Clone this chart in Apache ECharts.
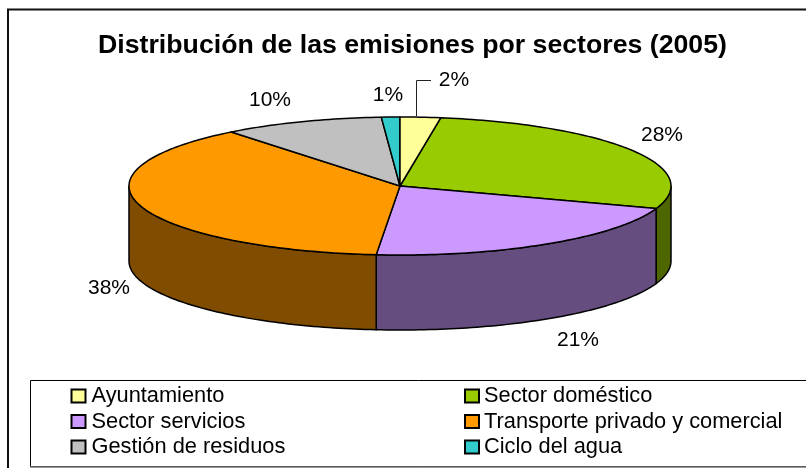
<!DOCTYPE html>
<html><head><meta charset="utf-8">
<style>html,body{margin:0;padding:0;background:#fff}#c{width:806px;height:468px}</style>
<script src="https://cdn.jsdelivr.net/npm/echarts@6/dist/echarts.min.js"></script>
</head><body><div id="c"></div>
<script>
const categories = ['Ayuntamiento','Sector doméstico','Sector servicios','Transporte privado y comercial','Gestión de residuos','Ciclo del agua'];
const values = [2.4,27.9,21.1,37.9,9.6,1.1];
const topColors = ['#ffff99','#99cc00','#cc99ff','#ff9900','#c0c0c0','#33cccc'];
const sideColors = ['#808050','#4d6600','#664d80','#804d00','#606060','#1a6666'];
const valueLabels = ['2%','28%','21%','38%','10%','1%'];

const CX=400, CY=186, RX=271, RY=69, DEPTH=75;
const LABEL_XY=[[454,80],[662,135],[578,340],[109,288],[270,100],[388,95]];
const FONT='"Liberation Sans", Arial, sans-serif';
const total=values.reduce((a,b)=>a+b,0);
const pt=(t,dy)=>[CX+RX*Math.sin(t),CY-RY*Math.cos(t)+(dy||0)];
function arc(a,b,dy){const n=Math.max(2,Math.ceil((b-a)/0.02)),o=[];for(let i=0;i<=n;i++)o.push(pt(a+(b-a)*i/n,dy));return o;}

function renderSlice(idx){
  return function(){
    let cum=0;for(let i=0;i<idx;i++)cum+=values[i];
    const a=cum/total*2*Math.PI,b=(cum+values[idx])/total*2*Math.PI;
    const children=[];
    const sa=Math.max(a,Math.PI/2),sb=Math.min(b,Math.PI*1.5);
    const stroke={stroke:'#000',lineWidth:1.5,lineJoin:'round'};
    if(sb>sa){
      const top=arc(sa,sb,0),bot=arc(sa,sb,DEPTH).reverse();
      children.push({type:'polygon',shape:{points:top.concat(bot)},style:Object.assign({fill:sideColors[idx]},stroke)});
    }
    children.push({type:'polygon',shape:{points:[[CX,CY]].concat(arc(a,b,0))},style:Object.assign({fill:topColors[idx]},stroke)});
    const lp=LABEL_XY[idx];
    children.push({type:'text',x:lp[0],y:lp[1],style:{text:valueLabels[idx],font:'21px '+FONT,fill:'#000',align:'center',verticalAlign:'middle'}});
    if(idx===0){
      children.push({type:'polyline',shape:{points:[[416.5,116],[416.5,80.5],[431,80.5]]},style:{stroke:'#222',lineWidth:1,fill:null}});
    }
    return {type:'group',children};
  };
}
const series=categories.map((name,i)=>({
  type:'custom',name,coordinateSystem:'none',silent:true,
  data:[values[i]],renderItem:renderSlice(i),
  itemStyle:{color:topColors[i],borderColor:'#000',borderWidth:1.5},
  z:i===0?3:2,animation:false
}));
const legendBase={orient:'vertical',itemWidth:14,itemHeight:13,itemGap:3.5,icon:'rect',padding:0,selectedMode:false};
const legendText=pad=>({fontFamily:FONT,fontSize:21.8,lineHeight:22,color:'#000',padding:[0,0,0,pad]});
const chart=echarts.init(document.getElementById('c'),null,{renderer:'canvas'});
chart.setOption({
  animation:false,backgroundColor:'#fff',
  title:{text:'Distribución de las emisiones por sectores (2005)',left:407.5,top:27,textAlign:'center',
    textStyle:{fontFamily:FONT,fontWeight:'bold',fontSize:26.7,color:'#000'}},
  legend:[
    Object.assign({},legendBase,{left:70.5,top:385,textStyle:legendText(1),data:categories.filter((_,i)=>i%2===0)}),
    Object.assign({},legendBase,{left:464,top:385,textStyle:legendText(0),data:categories.filter((_,i)=>i%2===1)})
  ],
  graphic:[
    {type:'rect',silent:true,z:-1,shape:{x:8,y:9.5,width:820,height:480},style:{fill:'#fff',stroke:'#111',lineWidth:2}},
    {type:'rect',silent:true,z:-1,shape:{x:30.5,y:380.5,width:820,height:86},style:{fill:'#fff',stroke:'#000',lineWidth:1}},
    {type:'line',silent:true,z:-1,shape:{x1:30,y1:467,x2:806,y2:467},style:{stroke:'#777',lineWidth:1.5}}
  ],
  series
});
</script></body></html>
